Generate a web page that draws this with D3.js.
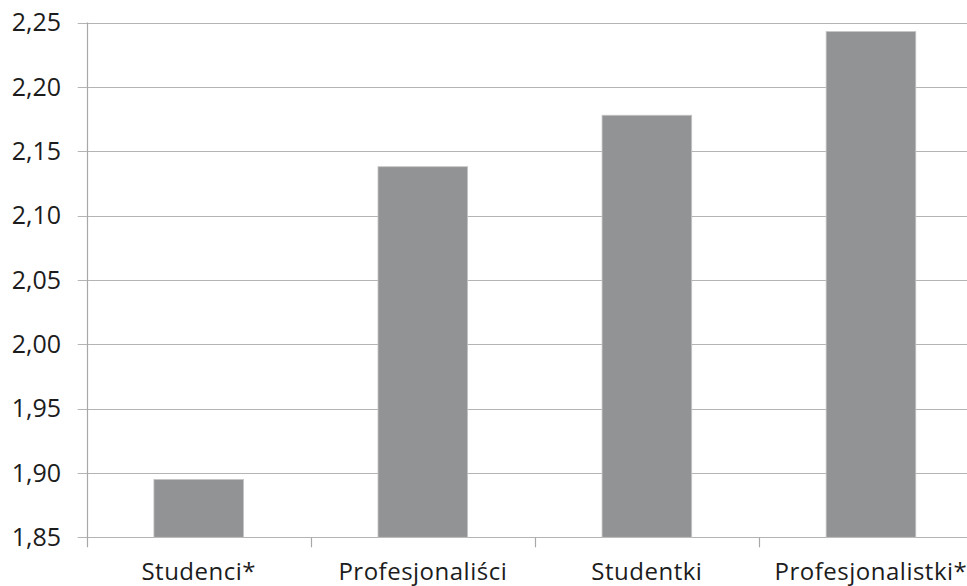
<!DOCTYPE html>
<html><head><meta charset="utf-8">
<script src="https://cdn.jsdelivr.net/npm/d3@7"></script>
<style>html,body{margin:0;padding:0;background:#fff;overflow:hidden}svg{display:block}</style>
</head><body>
<svg id="c" width="967" height="586"></svg>
<script>
const categories = ["Studenci*", "Profesjonaliści", "Studentki", "Profesjonalistki*"];
const values = [1.895, 2.138, 2.178, 2.243];
const yTicks = [1.85, 1.90, 1.95, 2.00, 2.05, 2.10, 2.15, 2.20, 2.25];

const svg = d3.select("#c");
const m = {left: 86.7, top: 22.6, bottom: 537.3, right: 983};
const x = d3.scaleBand().domain(categories).range([m.left, m.right]).paddingInner(0.6).paddingOuter(0.3);
const y = d3.scaleLinear().domain([1.85, 2.25]).range([m.bottom, m.top]);
const fmt = v => d3.format(".2f")(v).replace(".", ",");

// gridlines
svg.append("g").selectAll("line").data(yTicks).join("line")
  .attr("x1", m.left - 9).attr("x2", 967)
  .attr("y1", d => Math.round(y(d)) + 0.5).attr("y2", d => Math.round(y(d)) + 0.5)
  .attr("stroke", "#b4b4b4").attr("stroke-width", 1.2);

// bars
svg.append("g").selectAll("rect").data(values).join("rect")
  .attr("x", (d, i) => x(categories[i]))
  .attr("width", x.bandwidth())
  .attr("y", d => y(d))
  .attr("height", d => y(1.85) - y(d))
  .attr("fill", "#929395")
  .attr("stroke", "#c4c4c4").attr("stroke-width", 0.8);

// y axis line
svg.append("line").attr("x1", Math.round(m.left) + 0.5).attr("x2", Math.round(m.left) + 0.5)
  .attr("y1", m.top).attr("y2", m.bottom + 10).attr("stroke", "#a8a8a8").attr("stroke-width", 1.2);

// category ticks
const step = x.step();
const bounds = d3.range(0, categories.length + 1).map(i => m.left + i * step);
svg.append("g").selectAll("line").data(bounds.slice(1)).join("line")
  .attr("x1", d => Math.round(d) + 0.5).attr("x2", d => Math.round(d) + 0.5)
  .attr("y1", m.bottom).attr("y2", m.bottom + 10)
  .attr("stroke", "#a8a8a8").attr("stroke-width", 1.2);

// y labels
svg.append("g").selectAll("text").data(yTicks).join("text")
  .attr("x", 61).attr("y", d => y(d)).attr("dy", "0.35em")
  .attr("text-anchor", "end")
  .attr("font-family", "Open Sans").attr("font-size", 25).attr("fill", "#1c1c1c")
  .text(fmt);

// x labels
svg.append("g").selectAll("text").data(categories).join("text")
  .attr("x", d => x(d) + x.bandwidth() / 2).attr("y", 580)
  .attr("text-anchor", "middle")
  .attr("font-family", "Open Sans").attr("font-size", 24).attr("letter-spacing", 0.5).attr("fill", "#1c1c1c")
  .text(d => d);
</script>
</body></html>
